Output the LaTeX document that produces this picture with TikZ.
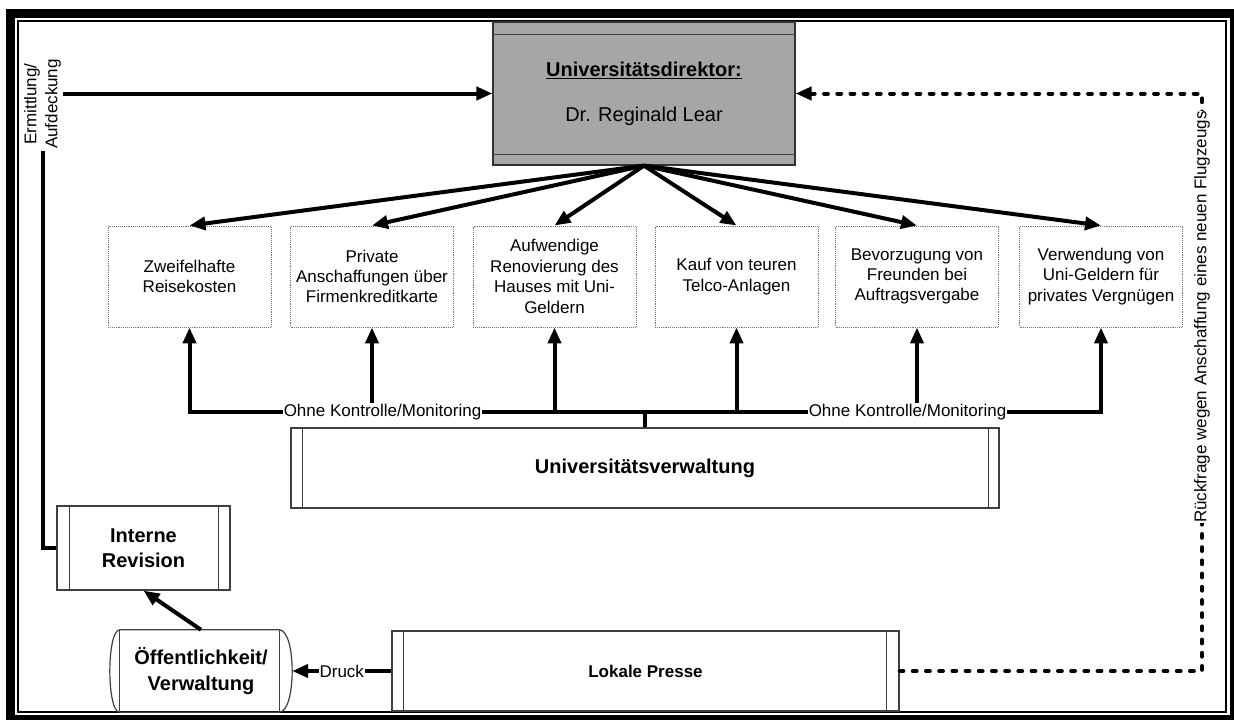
\documentclass[tikz,border=0pt]{standalone}
\usepackage{fontspec}
\setmainfont{Liberation Sans}
\usetikzlibrary{arrows.meta,calc}
\definecolor{dirgray}{RGB}{166,166,166}

\begin{document}
\begin{tikzpicture}[x=1pt,y=-1pt,
  conn/.style={line width=4pt, black},
  arr/.style={conn, -{Triangle[length=16pt,width=13pt]}},
  dotarr/.style={line width=4pt, line cap=round, dash pattern=on 3.8pt off 9.4pt,
    -{Triangle[length=16pt,width=13pt]}},
  issue/.style={draw=black!55, densely dotted, line width=0.9pt,
    minimum width=163pt, minimum height=101pt, align=center, inner sep=2pt,
    font=\fontsize{17}{20.4}\selectfont},
  subproc/.style={draw=black!75, line width=1.2pt, align=center, inner sep=2pt,
    font=\bfseries\fontsize{20}{25}\selectfont},
  band/.style={draw=black!75, line width=1.2pt},
  lbl/.style={fill=white, inner sep=0.6pt, font=\fontsize{17}{21}\selectfont},
]
\useasboundingbox (0,0) rectangle (1234,720);
\fill[white] (0,0) rectangle (1234,720);

% double frame
\draw[line width=9pt] (10.5,13) rectangle (1234.5,719);
\draw[line width=2pt] (18.3,21) rectangle (1225.5,711.5);

% director
\node[draw=black!80, line width=1.2pt, fill=dirgray, minimum width=302pt,
  minimum height=143pt, align=center, inner sep=0pt,
  font=\fontsize{20}{45}\selectfont] (dir) at (644,93.5)
  {\textbf{\underline{Universitätsdirektor:}}\\Dr. Reginald Lear};
\draw[draw=black!75, line width=1.2pt] ($(dir.north west)+(0,13)$) -- ($(dir.north east)+(0,13)$);
\draw[draw=black!75, line width=1.2pt] ($(dir.south west)+(0,-11)$) -- ($(dir.south east)+(0,-11)$);

% misconduct items
\node[issue] (b1) at (189.5,276.5) {Zweifelhafte\\Reisekosten};
\node[issue] (b2) at (372,276.5) {Private\\Anschaffungen über\\Firmenkreditkarte};
\node[issue] (b3) at (554.5,276.5) {Aufwendige\\Renovierung des\\Hauses mit Uni-\\Geldern};
\node[issue] (b4) at (736.5,276.5) {Kauf von teuren\\Telco-Anlagen};
\node[issue] (b5) at (917,276.5) {Bevorzugung von\\Freunden bei\\Auftragsvergabe};
\node[issue] (b6) at (1101,276.5) {Verwendung von\\Uni-Geldern für\\privates Vergnügen};

\foreach \b in {b1,b2,b3,b4,b5,b6}
  \draw[arr] (dir.south) -- (\b.north);

% administration
\node[subproc, minimum width=708pt, minimum height=80pt] (verw) at (645,468) {Universitätsverwaltung};
\draw[band] ($(verw.north west)+(12,0)$) -- ($(verw.south west)+(12,0)$);
\draw[band] ($(verw.north east)+(-11,0)$) -- ($(verw.south east)+(-11,0)$);

\coordinate (J) at (645,412);
\draw[conn] (verw.north) -- (J);
\foreach \b in {b1,b2,b3,b4,b5,b6}
  \draw[arr] (J) -| (\b.south);
\node[lbl] at (382.5,412) {Ohne Kontrolle/Monitoring};
\node[lbl] at (907.5,412) {Ohne Kontrolle/Monitoring};

% internal audit
\node[subproc, minimum width=173pt, minimum height=84pt] (rev) at (143.5,548) {Interne\\Revision};
\draw[band] ($(rev.north west)+(13,0)$) -- ($(rev.south west)+(13,0)$);
\draw[band] ($(rev.north east)+(-12,0)$) -- ($(rev.south east)+(-12,0)$);

% public
\node[minimum width=182pt, minimum height=82pt, align=center, inner sep=0pt,
  font=\bfseries\fontsize{20}{26}\selectfont] (oef) at (201,671) {Öffentlichkeit/\\Verwaltung};
\draw[draw=black!75, line width=1.2pt]
  ($(oef.north west)+(10,0)$) -- ($(oef.north east)+(-13,0)$)
  .. controls ($(oef.north east)+(4.3,0)$) and ($(oef.south east)+(4.3,0)$) .. ($(oef.south east)+(-13,0)$)
  -- ($(oef.south west)+(10,0)$)
  .. controls ($(oef.south west)+(-3.3,0)$) and ($(oef.north west)+(-3.3,0)$) .. cycle;
\draw[band] ($(oef.north west)+(10,0)$) -- ($(oef.south west)+(10,0)$);
\draw[band] ($(oef.north east)+(-13,0)$) -- ($(oef.south east)+(-13,0)$);

% local press
\node[subproc, minimum width=507pt, minimum height=80pt,
  font=\bfseries\fontsize{17}{20}\selectfont] (presse) at (645.5,671) {Lokale Presse};
\draw[band] ($(presse.north west)+(12,0)$) -- ($(presse.south west)+(12,0)$);
\draw[band] ($(presse.north east)+(-13,0)$) -- ($(presse.south east)+(-13,0)$);

% detection path
\node[rotate=90, align=center, inner sep=1.5pt, font=\fontsize{17}{21}\selectfont]
  (erm) at (42.5,104) {Ermittlung/\\Aufdeckung};
\draw[conn] (rev.west) -| (erm.west);
\draw[arr] (erm.south |- dir.west) -- (dir.west);

\draw[arr] (presse.west) -- node[lbl] {Druck} (oef.east);
\draw[arr] (oef.north) -- (rev.south);

% press inquiry
\coordinate (rt) at (1202,93.5);
\draw[dotarr] (presse.east) -| (rt) -- (dir.east);
\node[lbl, rotate=90] at (1202,317) {Rückfrage wegen Anschaffung eines neuen Flugzeugs};
\end{tikzpicture}
\end{document}
